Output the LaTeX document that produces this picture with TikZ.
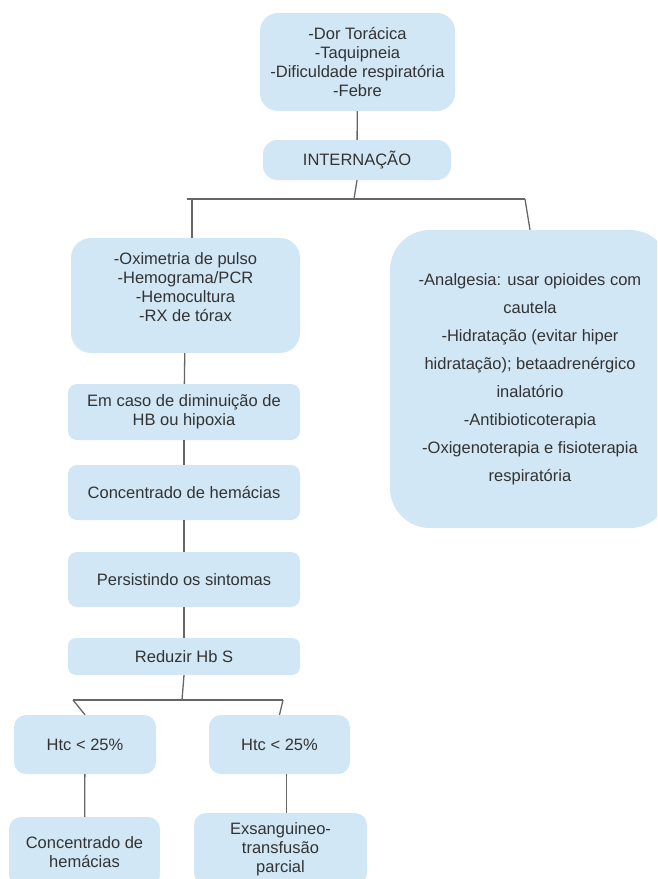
\documentclass[tikz,border=0pt]{standalone}
\usepackage{fontspec}
\setmainfont{Liberation Sans}
\definecolor{boxfill}{HTML}{D1E7F5}
\definecolor{linegray}{HTML}{666666}
\definecolor{textgray}{HTML}{333333}
\tikzset{
  card/.style={fill=boxfill, text=textgray, align=center, inner sep=0pt,
    rounded corners=12pt, font=\fontsize{16.5}{19}\selectfont},
  link/.style={draw=linegray, line width=1.3pt},
}

\begin{document}
\begin{tikzpicture}[x=1pt, y=-1pt]

\useasboundingbox (0,0) rectangle (657,879);
\clip (0,0) rectangle (657,879);

%junction below INTERNACAO
\coordinate (j1) at (354,199);
\coordinate (j1L) at (187,199);
\coordinate (j1A) at (192,199);
\coordinate (j1R) at (525,199);

%junction below Reduzir Hb S
\coordinate (j2) at (182,700);
\coordinate (j2L) at (73,700);
\coordinate (j2R) at (283,700);

% symptoms and admission
\node[card, minimum width=195pt, minimum height=98pt, rounded corners=18pt] (sintomas) at (357.5,62)
  {-Dor Torácica\\-Taquipneia\\-Dificuldade respiratória\\-Febre};
\node[card, minimum width=188pt, minimum height=40pt, rounded corners=14pt] (intern) at (357,160) {INTERNAÇÃO};

% left column
\node[card, minimum width=229pt, minimum height=115pt, rounded corners=20pt] (exames) at (185.5,295.5)
  {-Oximetria de pulso\\-Hemograma/PCR\\-Hemocultura\\-RX de tórax\\[-3pt]};
\node[card, minimum width=232pt, minimum height=56pt, rounded corners=9pt] (caso) at (184,412)
  {Em caso de diminuição de\\HB ou hipoxia};
\node[card, minimum width=232pt, minimum height=55pt, rounded corners=9pt] (conc) at (184,492.5) {Concentrado de hemácias};
\node[card, minimum width=232pt, minimum height=55pt, rounded corners=9pt] (persist) at (184,579.5) {Persistindo os sintomas};
\node[card, minimum width=232pt, minimum height=37pt, rounded corners=8pt] (reduz) at (184,656.5) {Reduzir Hb S};

% Htc branches
\node[card, minimum width=142pt, minimum height=59pt] (htcA) at (85,744.5) {Htc < 25\%};
\node[card, minimum width=141pt, minimum height=59pt] (htcB) at (279.5,744.5) {Htc < 25\%};
\node[card, minimum width=151pt, minimum height=70pt] (concB) at (84.5,852) {Concentrado de\\hemácias};
\node[card, minimum width=173pt, minimum height=72pt] (exsang) at (280.5,849)
  {Exsanguineo-\\transfusão\\parcial};

% treatment box on the right
\node[card, minimum width=280pt, minimum height=298pt, rounded corners=40pt,
  font=\fontsize{16.5}{28}\selectfont] (trat) at (530,379)
  {-Analgesia: usar opioides com\\cautela\\-Hidratação (evitar hiper\\hidratação); betaadrenérgico\\inalatório\\-Antibioticoterapia\\-Oxigenoterapia e fisioterapia\\respiratória};

% connectors
\draw[link] (sintomas) -- (intern);
\draw[link] (intern.south) -- (j1);
\draw[link] (j1L) -- (j1R);
\draw[link] (j1A) -- (j1A |- exames.north);
\draw[link] (j1R) -- (trat.north);
\draw[link] (exames) -- (caso);
\draw[link] (caso) -- (conc);
\draw[link] (conc) -- (persist);
\draw[link] (persist) -- (reduz);
\draw[link] (reduz.south) -- (j2);
\draw[link] (j2L) -- (j2R);
\draw[link] (j2L) -- (htcA.north);
\draw[link] (j2R) -- (htcB.north);
\draw[link] (htcA) -- (concB);
\draw[link] ([xshift=7pt]htcB.south) -- ([xshift=7pt]htcB.south |- exsang.north);

\end{tikzpicture}
\end{document}
